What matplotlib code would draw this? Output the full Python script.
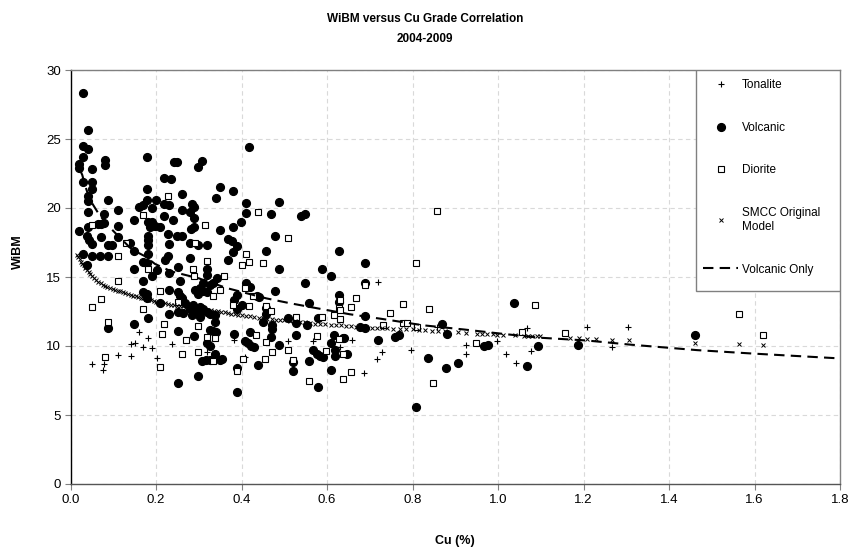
import matplotlib
matplotlib.use("Agg")
import matplotlib.pyplot as plt
from matplotlib.patches import Rectangle

plt.rcParams['font.family'] = ['Liberation Sans', 'DejaVu Sans']

#Volcanic samples (Cu %, WiBM)
volc_cu = [0.029,0.040,0.029,0.041,0.029,0.019,0.019,0.050,0.080,0.080,0.179,0.242,0.249,0.308,0.299,
           0.029,0.050,0.049,0.040,0.041,0.088,0.179,0.219,0.235,0.040,0.079,0.110,0.179,0.200,0.160,
           0.170,0.190,0.219,0.230,0.260,0.283,0.289,0.260,0.279,0.219,0.239,0.149,0.180,0.191,0.186,
           0.197,0.209,0.289,0.289,0.281,0.019,0.040,0.065,0.071,0.079,0.110,0.037,0.043,0.050,0.071,
           0.110,0.088,0.097,0.139,0.149,0.180,0.182,0.180,0.228,0.230,0.248,0.260,0.279,0.298,0.029,
           0.050,0.088,0.069,0.180,0.228,0.279,
           0.037,0.149,0.170,0.178,0.190,0.203,0.221,0.250,0.230,0.256,0.168,0.168,0.178,0.178,0.230,
           0.250,0.256,0.260,0.209,0.291,0.298,0.267,0.279,0.287,0.291,0.302,0.283,0.230,0.250,0.263,
           0.180,0.149,0.088,0.250,0.289,0.308,0.298,0.250,
           0.418,0.349,0.379,0.339,0.488,0.409,0.409,0.468,0.538,0.549,0.398,0.379,0.349,0.318,0.369,
           0.378,0.388,0.479,0.379,0.458,0.369,0.628,
           0.318,0.318,0.342,0.326,0.334,0.310,0.303,0.310,0.318,0.487,0.589,0.608,0.549,0.410,0.420,
           0.478,0.390,0.381,0.435,0.441,0.400,0.388,0.303,0.310,0.318,0.326,0.338,0.303,0.458,0.458,
           0.558,0.628,0.628,0.449,0.472,0.470,0.508,0.528,0.552,0.578,0.338,0.326,0.334,0.340,0.381,
           0.420,0.469,0.528,0.616,0.636,0.318,0.326,0.408,0.415,0.423,0.429,0.488,0.608,0.568,0.576,
           0.583,0.591,0.618,0.618,0.338,0.317,0.326,0.349,0.355,0.388,0.439,0.519,0.519,0.558,0.608,
           0.578,0.388,
           0.689,0.689,0.689,0.677,0.689,0.639,0.646,0.718,0.759,0.767,0.868,0.880,0.837,0.878,0.907,
           0.808,0.967,0.977,1.037,1.067,1.094,1.186,1.461]
volc_wibm = [28.3,25.65,24.5,24.3,23.7,23.2,22.9,22.8,23.5,23.1,23.7,23.35,23.3,23.4,23.0,
             21.9,21.9,21.35,20.9,20.5,20.6,21.4,22.15,22.1,19.7,19.6,19.85,20.6,20.6,20.1,
             20.2,20.0,20.3,20.2,21.0,20.3,20.1,19.85,19.7,19.4,19.1,19.1,19.0,19.0,18.6,
             18.7,18.65,19.3,18.65,18.5,18.35,18.65,18.85,18.85,18.9,18.7,18.0,17.7,17.4,17.9,
             17.9,17.3,17.3,17.5,16.85,18.0,17.7,17.3,18.1,17.4,18.0,18.0,17.5,17.3,16.7,
             16.5,16.5,16.5,16.7,16.5,16.4,
             15.9,15.6,16.1,16.0,15.1,15.5,16.2,15.7,15.3,14.7,14.7,13.9,13.8,13.45,14.05,
             13.9,13.6,13.45,13.1,14.05,13.8,13.1,12.7,12.95,12.6,12.5,12.25,12.3,12.5,12.4,
             12.05,11.6,11.3,11.1,10.75,8.9,7.8,7.35,
             24.45,21.5,21.2,20.7,20.45,20.35,19.65,19.55,19.4,19.55,18.95,18.6,18.4,17.3,17.75,
             17.6,17.25,18.0,16.8,16.9,16.2,16.9,
             15.6,15.15,14.9,14.45,14.55,14.55,14.2,13.95,13.9,15.6,15.6,15.1,14.55,14.55,14.25,
             13.95,13.7,13.35,13.6,13.55,12.95,12.7,12.85,12.7,12.5,12.3,12.25,12.1,12.75,12.3,
             13.1,13.7,13.2,11.75,11.5,11.25,12.0,11.65,11.5,12.0,11.75,11.15,11.1,11.0,10.85,
             11.0,10.65,10.8,10.8,10.6,10.2,10.0,10.35,10.2,10.0,9.9,10.1,10.25,9.7,9.45,
             9.3,9.2,9.7,9.3,9.4,8.95,9.0,9.0,9.05,8.4,8.65,8.85,8.2,8.9,8.25,
             7.05,6.7,
             16.05,14.6,12.2,11.4,11.3,10.55,9.4,10.45,10.65,10.8,11.6,10.85,9.15,8.4,8.75,
             5.6,10.0,10.05,13.1,8.55,10.0,10.05,10.8]

#Diorite samples
dior_cu = [0.228,0.168,0.049,0.129,0.110,0.291,0.314,
           0.110,0.071,0.050,0.088,0.080,0.209,0.168,0.219,0.213,0.269,0.260,0.298,0.209,0.298,
           0.287,0.289,0.180,0.252,
           0.438,0.508,0.409,
           0.318,0.400,0.418,0.449,0.359,0.349,0.408,0.427,0.334,0.379,0.418,0.458,0.468,0.528,
           0.587,0.616,0.628,0.318,0.338,0.433,0.457,0.472,0.509,0.519,0.455,0.402,0.388,0.577,
           0.597,0.628,0.636,0.558,0.636,0.332,
           0.858,0.808,0.668,0.657,0.777,0.839,0.747,0.731,0.777,0.786,0.810,0.689,1.057,1.086,
           1.156,0.948,0.630,0.630,0.630,0.657,0.847,1.564,1.620]
dior_wibm = [20.9,19.5,18.8,17.5,16.5,17.5,18.8,
             14.7,13.4,12.8,11.75,9.2,14.0,12.65,11.6,10.85,10.4,9.45,9.6,8.5,11.45,
             15.6,15.1,15.6,13.2,
             19.7,17.8,16.7,
             16.15,15.85,16.1,16.0,15.1,14.05,14.2,13.65,13.65,12.95,12.9,12.9,12.55,12.1,
             12.1,12.25,12.75,10.65,10.55,10.8,10.3,9.55,9.7,9.0,9.05,9.05,8.2,10.7,
             9.65,10.5,9.45,7.45,7.6,8.9,
             19.8,16.0,13.5,12.85,13.05,12.65,12.4,11.5,11.65,11.7,11.35,14.4,11.05,13.0,
             10.95,10.25,13.3,12.6,11.95,8.1,7.35,12.3,10.8]

#Tonalite samples
tona_cu = [0.049,0.079,0.076,0.110,0.141,0.140,0.150,0.160,0.180,0.170,0.190,0.203,0.238,
           0.381,0.408,0.508,0.568,0.318,
           0.718,0.659,0.728,0.717,0.686,0.796,0.856,0.926,0.926,0.997,1.018,1.041,1.067,1.076,
           1.207,1.266,1.305,0.630]
tona_wibm = [8.7,8.7,8.25,9.35,9.3,10.15,10.25,11.0,10.6,9.9,9.85,9.1,10.15,
             10.45,9.2,10.35,10.35,9.6,
             14.65,10.4,9.55,9.05,8.05,9.7,11.35,10.1,9.4,10.35,9.4,8.75,11.3,9.65,
             11.35,9.9,11.35,9.9]

#SMCC original model
smcc_cu = [0.015,0.018,0.021,0.024,0.027,0.030,0.034,0.038,0.042,0.046,0.050,0.055,0.060,0.065,
           0.070,0.075,0.080,0.086,0.092,0.098,0.104,0.110,0.116,0.122,0.128,0.134,0.140,0.146,
           0.152,0.158,0.164,0.170,0.176,0.182,0.188,0.194,0.200,0.207,0.214,0.221,0.228,0.235,
           0.242,0.249,0.256,0.263,0.270,0.277,0.284,0.291,0.298,0.305,0.312,0.320,0.328,0.336,
           0.344,0.352,0.360,0.368,0.376,0.384,0.392,0.400,0.410,0.420,0.430,0.440,0.450,0.460,
           0.470,0.480,0.490,0.500,0.512,0.524,0.536,0.548,0.560,0.572,0.584,0.596,0.608,0.620,
           0.632,0.644,0.656,0.668,0.680,0.692,0.704,0.716,0.728,0.740,0.755,0.770,0.785,0.800,
           0.815,0.830,0.845,0.860,0.875,0.907,0.926,0.950,0.962,0.975,0.987,0.997,1.012,1.040,
           1.060,1.070,1.080,1.090,1.098,1.168,1.190,1.207,1.230,1.266,1.306,1.461,1.564,1.620]
smcc_wibm = [16.6,16.45,16.3,16.1,15.95,15.85,15.65,15.5,15.35,15.2,15.1,14.95,14.8,14.65,
             14.55,14.45,14.35,14.25,14.2,14.1,14.05,14.0,13.95,13.9,13.85,13.8,13.7,13.65,
             13.6,13.55,13.5,13.45,13.4,13.35,13.3,13.25,13.2,13.15,13.12,13.1,13.05,13.0,
             12.97,12.93,12.9,12.87,12.84,12.8,12.77,12.74,12.71,12.68,12.65,12.62,12.58,12.55,
             12.52,12.48,12.44,12.4,12.35,12.3,12.27,12.23,12.18,12.14,12.1,12.05,12.02,11.98,
             11.95,11.92,11.9,11.87,11.83,11.79,11.75,11.71,11.67,11.63,11.6,11.57,11.54,11.52,
             11.49,11.46,11.43,11.4,11.37,11.34,11.32,11.3,11.29,11.28,11.26,11.24,11.22,11.2,
             11.17,11.14,11.11,11.08,11.06,11.0,10.95,10.9,10.88,10.86,10.84,10.83,10.82,10.78,
             10.75,10.74,10.72,10.71,10.7,10.58,10.55,10.53,10.5,10.45,10.4,10.25,10.15,10.1]

#Volcanic only trend line
trend_cu = [0.024,0.027,0.035,0.045,0.065,0.085,0.104,0.125,0.143,0.174,0.197,0.236,0.300,0.365,
            0.458,0.513,0.600,0.653,0.731,0.825,0.919,1.020,1.098,1.207,1.309,1.466,1.597,1.800]
trend_wibm = [22.6,22.4,21.5,20.6,19.6,18.8,18.2,17.55,17.0,16.5,15.95,15.4,14.9,14.2,
              13.45,13.1,12.6,12.3,11.95,11.5,11.2,10.85,10.6,10.4,10.1,9.7,9.45,9.1]

fig = plt.figure(figsize=(8.51, 5.52), dpi=100)
ax = fig.add_axes([70.7/851, 1-484/552, (840-70.7)/851, (484-70)/552])

ax.plot(tona_cu, tona_wibm, linestyle='none', marker='+', ms=4.5, mew=0.8, color='black', label='Tonalite', zorder=3)
ax.plot(volc_cu, volc_wibm, linestyle='none', marker='o', ms=5.6, color='black', label='Volcanic', zorder=3)
ax.plot(dior_cu, dior_wibm, linestyle='none', marker='s', ms=4, mew=0.8, mec='black', mfc='white', label='Diorite', zorder=4)
ax.plot(smcc_cu, smcc_wibm, linestyle='none', marker='x', ms=3, mew=0.7, color='black', label='SMCC Original\nModel', zorder=5)
ax.plot(trend_cu, trend_wibm, linestyle=(0, (5, 3)), lw=1.5, color='black', label='Volcanic Only', zorder=6)

ax.set_xlim(0, 1.8)
ax.set_ylim(0, 30)
ax.set_xticks([0.0,0.2,0.4,0.6,0.8,1.0,1.2,1.4,1.6,1.8])
ax.set_xticklabels(['0.0','0.2','0.4','0.6','0.8','1.0','1.2','1.4','1.6','1.8'])
ax.set_yticks([0,5,10,15,20,25,30])
ax.tick_params(direction='out', length=4, width=0.8, color='#808080', labelsize=9.5, pad=3)
ax.grid(True, linestyle=(0, (4, 3)), color='#d9d9d9', lw=0.8)
ax.set_axisbelow(True)

ax.spines['left'].set_color('black')
ax.spines['bottom'].set_color('#555555')
ax.spines['top'].set_color('#808080')
ax.spines['right'].set_color('#808080')
for s in ax.spines.values():
    s.set_linewidth(1.0)

#legend box (left and bottom edges visible, top/right shared with the axes)
lx0 = (696-70.7)/769.3
ly0 = (484-291)/414
ax.add_patch(Rectangle((lx0, ly0), 1-lx0, 1-ly0, transform=ax.transAxes,
                       facecolor='white', edgecolor='#808080', lw=1.0, zorder=7))
leg = ax.legend(loc='upper left', bbox_to_anchor=((703-70.7)/769.3, (484-79)/414),
                frameon=False, fontsize=8.5, labelspacing=2.6, handlelength=3.0,
                handletextpad=0.3, borderpad=0, borderaxespad=0, numpoints=1)
leg.set_zorder(8)

fig.text(425/851, 1-29/552, 'WiBM versus Cu Grade Correlation\n2004-2009', ha='center', va='center',
         fontsize=8.5, fontweight='bold', linespacing=1.9)
fig.text(18/851, 1-252/552, 'WiBM', rotation=90, ha='center', va='center', fontsize=9, fontweight='bold')
fig.text(455/851, 1-541/552, 'Cu (%)', ha='center', va='center', fontsize=9, fontweight='bold')

fig.savefig('out.png', dpi=100)
